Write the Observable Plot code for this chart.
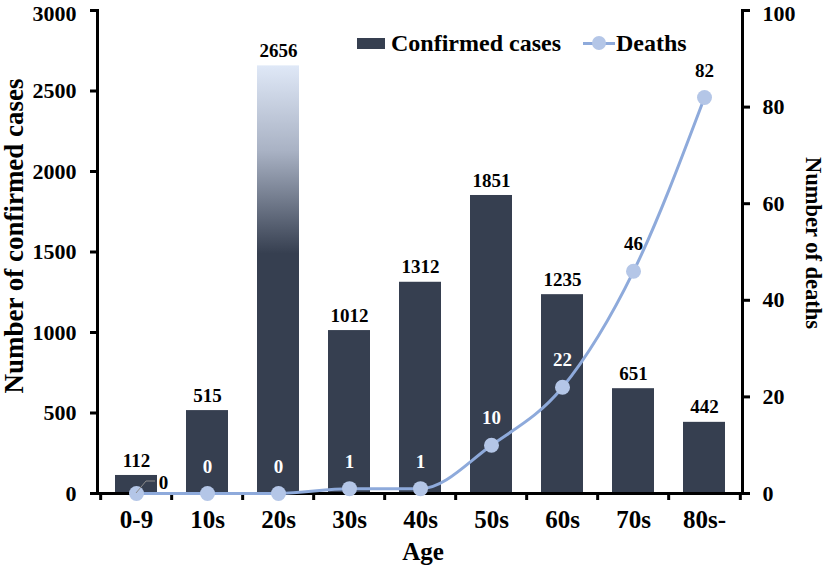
<!DOCTYPE html>
<html>
<head>
<meta charset="utf-8">
<script src="https://cdn.jsdelivr.net/npm/d3@7"></script>
<script src="https://cdn.jsdelivr.net/npm/@observablehq/plot@0.6"></script>
<style>
  body { margin: 0; background: #fff; }
  #wrap { position: relative; width: 827px; height: 568px; font-family: "Liberation Serif", "Times New Roman", serif; font-weight: bold; }
  #legend { position: absolute; left: 357px; top: 29px; display: flex; align-items: center; font-size: 24px; line-height: 28px; color: #000; }
  .sw { width: 28px; height: 11px; background: #363f50; margin-right: 6px; }
  .ln { position: relative; width: 32px; height: 3px; background: #8eaadb; margin-left: 22px; margin-right: 1px; }
  .ln::after { content: ""; position: absolute; left: 9px; top: -5.5px; width: 14px; height: 14px; border-radius: 50%; background: #b4c6e7; }
</style>
</head>
<body>
<div id="wrap">
  <div id="chart"></div>
  <div id="legend"><div class="sw"></div><span>Confirmed cases</span><div class="ln"></div><span>Deaths</span></div>
</div>
<script>
const ages = ["0-9", "10s", "20s", "30s", "40s", "50s", "60s", "70s", "80s-"];
const cases = [112, 515, 2656, 1012, 1312, 1851, 1235, 651, 442];
const deaths = [0, 0, 0, 1, 1, 10, 22, 46, 82];
const caseTicks = [0, 500, 1000, 1500, 2000, 2500, 3000];
const deathTicks = [0, 20, 40, 60, 80, 100];
const yLabel = "Number of confirmed cases";
const y2Label = "Number of deaths";
const xLabel = "Age";

const ratio = 3000 / 100;
const data = ages.map((a, i) => ({age: a, cases: cases[i], deaths: deaths[i], d30: deaths[i] * ratio,
  white: i > 0 && i < 7}));

const W = 827, H = 568, mL = 97, mR = 85, mT = 10, mB = 75;
const step = (W - mL - mR) / ages.length;
const font = "Liberation Serif";

const leftTicks = caseTicks.slice(0, -1), leftTop = caseTicks.slice(-1);
const rightTicks = deathTicks.slice(0, -1).map(d => d * ratio), rightTop = deathTicks.slice(-1).map(d => d * ratio);
const yAxisOpts = {tickSize: 7, strokeWidth: 3, fontSize: 22, label: null};

const chart = Plot.plot({
  width: W, height: H,
  marginLeft: mL, marginRight: mR, marginTop: mT, marginBottom: mB,
  style: {fontFamily: font, fontWeight: "bold", fontSize: "22px", color: "#000", background: "#fff"},
  x: {domain: ages, paddingInner: 0.41, paddingOuter: 0.205, label: null},
  y: {domain: [0, 3000], label: null},
  marks: [
    Plot.barY(data, {x: "age", y: "cases", fill: d => d.age === "20s" ? "url(#grad20)" : "#363f50"}),
    Plot.text(data, {x: "age", y: "cases", text: d => String(d.cases), dy: -15, fontSize: 19, fill: "#000"}),
    // axes lines
    Plot.ruleY([0], {stroke: "#000", strokeWidth: 3}),
    Plot.frame({anchor: "left", stroke: "#000", strokeWidth: 3}),
    Plot.frame({anchor: "right", stroke: "#000", strokeWidth: 3}),
    Plot.axisY(leftTicks, {...yAxisOpts, anchor: "left", tickPadding: 14, tickFormat: d => String(d)}),
    Plot.axisY(leftTop, {...yAxisOpts, anchor: "left", tickSize: 0, tickPadding: 21, tickFormat: d => String(d), dy: 3}),
    Plot.axisY(rightTicks, {...yAxisOpts, anchor: "right", tickPadding: 13, tickFormat: d => String(Math.round(d / ratio))}),
    Plot.axisY(rightTop, {...yAxisOpts, anchor: "right", tickSize: 0, tickPadding: 20, tickFormat: d => String(Math.round(d / ratio)), dy: 3}),
    Plot.axisY(leftTop, {anchor: "left", tickSize: 7, strokeWidth: 3, tickFormat: () => "", label: null}),
    Plot.axisY(rightTop, {anchor: "right", tickSize: 7, strokeWidth: 3, tickFormat: () => "", label: null}),
    Plot.axisX(ages, {anchor: "bottom", tickSize: 0, tickPadding: 17, fontSize: 25, label: null}),
    Plot.axisX(ages, {anchor: "bottom", tickSize: 7, tickFormat: () => "", strokeWidth: 3, dx: -step / 2}),
    Plot.axisX([ages[ages.length - 1]], {anchor: "bottom", tickSize: 7, tickFormat: () => "", strokeWidth: 3, dx: step / 2}),
    // deaths line
    Plot.line(data, {x: "age", y: "d30", curve: "monotone-x", stroke: "#8eaadb", strokeWidth: 3}),
    Plot.dot(data, {x: "age", y: "d30", r: 7.5, fill: "#b4c6e7", stroke: "none"}),
    Plot.text(data.filter((d, i) => i > 0), {x: "age", y: "d30", text: d => String(d.deaths), dy: -27, fontSize: 19,
      fill: d => d.white ? "#fff" : "#000"}),
    Plot.text(data.filter((d, i) => i === 0), {x: "age", y: "d30", text: d => String(d.deaths), dx: 27, dy: -11, fontSize: 19, fill: "#000"}),
    // axis titles
    Plot.text([yLabel], {frameAnchor: "left", textAnchor: "middle", dx: -83, dy: -16, rotate: -90, fontSize: 27, fill: "#000"}),
    Plot.text([y2Label], {frameAnchor: "right", textAnchor: "middle", dx: 71, dy: -9, rotate: 90, fontSize: 22.5, fill: "#000"}),
    Plot.text([xLabel], {frameAnchor: "bottom", dx: 3, dy: 66, fontSize: 25, fill: "#000"})
  ]
});

const svgNS = "http://www.w3.org/2000/svg";
// gradient for 20s bar
const defs = document.createElementNS(svgNS, "defs");
const lg = document.createElementNS(svgNS, "linearGradient");
lg.setAttribute("id", "grad20");
lg.setAttribute("x1", "0"); lg.setAttribute("y1", "0"); lg.setAttribute("x2", "0"); lg.setAttribute("y2", "1");
[["0", "#dfe8f7"], ["0.2", "#a9b2c4"], ["0.44", "#363f50"], ["1", "#363f50"]].forEach(([o, c]) => {
  const s = document.createElementNS(svgNS, "stop");
  s.setAttribute("offset", o); s.setAttribute("stop-color", c);
  lg.appendChild(s);
});
defs.appendChild(lg);
chart.insertBefore(defs, chart.firstChild);

// leader line for the first death label, positioned through the chart's scales
const xs = chart.scale("x"), ys = chart.scale("y");
const px = xs.apply(ages[0]) + xs.bandwidth / 2, py = ys.apply(deaths[0] * ratio);
const leader = document.createElementNS(svgNS, "path");
leader.setAttribute("d", `M${px},${py}L${px + 10},${py - 12}L${px + 19},${py - 12}`);
leader.setAttribute("fill", "none");
leader.setAttribute("stroke", "#8c8c8c");
leader.setAttribute("stroke-width", "1");
chart.appendChild(leader);

document.getElementById("chart").appendChild(chart);
</script>
</body>
</html>
